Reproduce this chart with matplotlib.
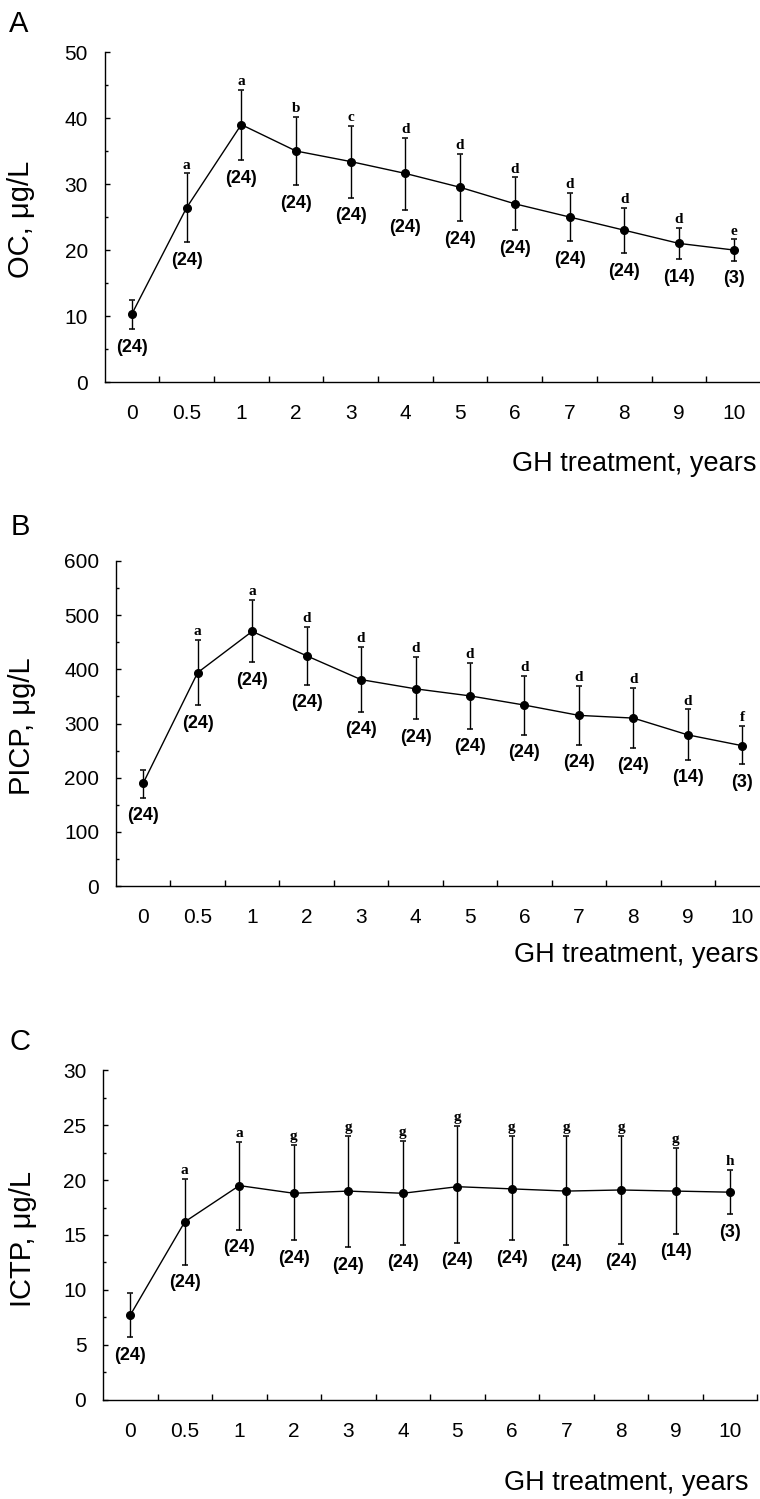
import matplotlib
matplotlib.use("Agg")
import matplotlib.pyplot as plt
import numpy as np
from matplotlib.ticker import FixedLocator, MultipleLocator, NullFormatter

# ---------------- data ----------------
categories = ["0", "0.5", "1", "2", "3", "4", "5", "6", "7", "8", "9", "10"]
n_labels = ["(24)", "(24)", "(24)", "(24)", "(24)", "(24)", "(24)", "(24)",
            "(24)", "(24)", "(14)", "(3)"]

oc_mean = [10.3, 26.4, 39.0, 35.0, 33.4, 31.6, 29.5, 27.0, 25.0, 23.0, 21.0, 20.0]
oc_upper = [12.5, 31.6, 44.3, 40.2, 38.8, 37.0, 34.5, 31.0, 28.7, 26.4, 23.3, 21.6]
oc_lower = [8.0, 21.2, 33.6, 29.8, 27.9, 26.1, 24.4, 23.0, 21.3, 19.5, 18.6, 18.4]
oc_letters = ["", "a", "a", "b", "c", "d", "d", "d", "d", "d", "d", "e"]

picp_mean = [190, 394, 470, 425, 381, 364, 351, 334, 315, 310, 279, 259]
picp_upper = [215, 455, 528, 478, 442, 423, 412, 388, 370, 366, 326, 295]
picp_lower = [163, 334, 413, 372, 322, 308, 290, 279, 261, 255, 233, 225]
picp_letters = ["", "a", "a", "d", "d", "d", "d", "d", "d", "d", "d", "f"]

ictp_mean = [7.7, 16.2, 19.5, 18.8, 19.0, 18.8, 19.4, 19.2, 19.0, 19.1, 19.0, 18.9]
ictp_upper = [9.75, 20.1, 23.5, 23.2, 24.0, 23.6, 24.9, 24.0, 24.0, 24.0, 22.9, 20.9]
ictp_lower = [5.7, 12.3, 15.5, 14.5, 13.9, 14.1, 14.3, 14.5, 14.1, 14.2, 15.1, 16.9]
ictp_letters = ["", "a", "a", "g", "g", "g", "g", "g", "g", "g", "g", "h"]

x_title = "GH treatment, years"

# ---------------- layout ----------------
W, H = 760, 1499
fig = plt.figure(figsize=(W / 100, H / 100), dpi=100)
SANS = "Liberation Sans"
SERIF = "Liberation Serif"


def px_axes(left, top, right, bottom):
    return [left / W, 1 - bottom / H, (right - left) / W, (bottom - top) / H]


panels = [
    dict(rect=px_axes(104.5, 52, 761, 382), mean=oc_mean, up=oc_upper, lo=oc_lower,
         letters=oc_letters, ymax=50, major=10, minor=5, ylabel="OC, μg/L",
         ylab_xy=(21, 219), tag="A", tag_xy=(19, 24), xl_xy=(757, 471)),
    dict(rect=px_axes(116, 561, 769.5, 886), mean=picp_mean, up=picp_upper, lo=picp_lower,
         letters=picp_letters, ymax=600, major=100, minor=50, ylabel="PICP, μg/L",
         ylab_xy=(22, 726), tag="B", tag_xy=(20, 527), xl_xy=(758, 962)),
    dict(rect=px_axes(103, 1070.3, 757.3, 1399.7), mean=ictp_mean, up=ictp_upper, lo=ictp_lower,
         letters=ictp_letters, ymax=30, major=5, minor=2.5, ylabel="ICTP, μg/L",
         ylab_xy=(23, 1239), tag="C", tag_xy=(20, 1042), xl_xy=(748, 1490)),
]

x = np.arange(len(categories))

for p in panels:
    ax = fig.add_axes(p["rect"])
    mean = np.array(p["mean"], dtype=float)
    up = np.array(p["up"], dtype=float)
    lo = np.array(p["lo"], dtype=float)
    ax.errorbar(x, mean, yerr=[mean - lo, up - mean], fmt="o-", color="black",
                ms=5.5, lw=1.0, elinewidth=1.0, capsize=2.5, capthick=1.1)
    ax.set_xlim(-0.5, len(categories) - 0.5)
    ax.set_ylim(0, p["ymax"])
    for s in ("top", "right"):
        ax.spines[s].set_visible(False)
    for s in ("left", "bottom"):
        ax.spines[s].set_linewidth(1.0)

    # x: labels at category centres, ticks at category boundaries
    ax.set_xticks(x)
    ax.set_xticklabels(categories, fontsize=15, family=SANS)
    ax.tick_params(axis="x", which="major", length=0, pad=16)
    ax.xaxis.set_minor_locator(FixedLocator(np.arange(0.5, len(categories), 1.0)))
    ax.tick_params(axis="x", which="minor", direction="in", length=4.5, width=1.0)

    ax.yaxis.set_major_locator(MultipleLocator(p["major"]))
    ax.yaxis.set_minor_locator(MultipleLocator(p["minor"]))
    ax.yaxis.set_minor_formatter(NullFormatter())
    ax.tick_params(axis="y", which="major", direction="in", length=3.6, width=1.0,
                   pad=12, labelsize=15)
    ax.tick_params(axis="y", which="minor", direction="in", length=2.2, width=1.0)
    for lab in ax.get_yticklabels():
        lab.set_family(SANS)

    for i in range(len(categories)):
        if p["letters"][i]:
            ax.annotate(p["letters"][i], xy=(x[i], up[i]), xytext=(0, 3.5),
                        textcoords="offset points", ha="center", va="baseline",
                        family=SERIF, weight="bold", fontsize=11)
        ax.annotate(n_labels[i], xy=(x[i], lo[i]), xytext=(0, -13),
                    textcoords="offset points", ha="center", va="center",
                    family=SANS, weight="bold", fontsize=13)

    fig.text(p["ylab_xy"][0] / W, 1 - p["ylab_xy"][1] / H, p["ylabel"], rotation=90,
             ha="center", va="center", fontsize=21, family=SANS)
    fig.text(p["tag_xy"][0] / W, 1 - p["tag_xy"][1] / H, p["tag"],
             ha="center", va="center", fontsize=21, family=SANS)
    fig.text(p["xl_xy"][0] / W, 1 - p["xl_xy"][1] / H, x_title,
             ha="right", va="baseline", fontsize=19.5, family=SANS)

fig.savefig("out.png", dpi=100)
